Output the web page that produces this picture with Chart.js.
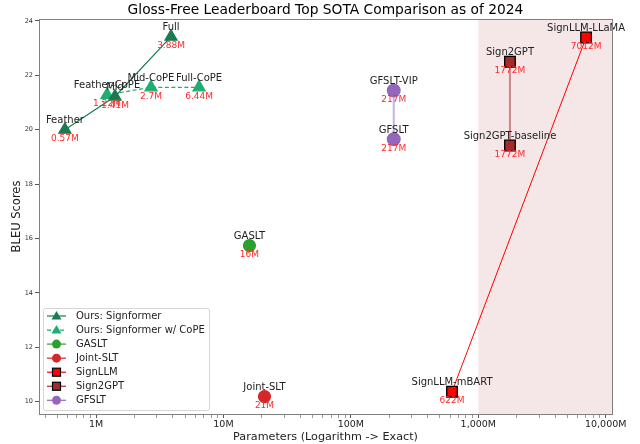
<!DOCTYPE html>
<html>
<head>
<meta charset="utf-8">
<script src="https://cdn.jsdelivr.net/npm/chart.js@4/dist/chart.umd.min.js"></script>
<style>
  body { margin: 0; background: #fff; }
  canvas { display: block; }
</style>
</head>
<body>
<canvas id="sotaChart" width="640" height="444"></canvas>
<script>

// data (params in millions, BLEU)
var signformerNames = ["Feather", "Mid", "Full"];
var signformerParams = [0.57, 1.41, 3.88];
var signformerBleu = [20.0, 21.22, 23.42];

var copeNames = ["Feather-CoPE", "Mid-CoPE", "Full-CoPE"];
var copeParams = [1.22, 2.7, 6.44];
var copeBleu = [21.28, 21.56, 21.56];

var gasltNames = ["GASLT"];
var gasltParams = [16];
var gasltBleu = [15.74];

var jointNames = ["Joint-SLT"];
var jointParams = [21];
var jointBleu = [10.19];

var signllmNames = ["SignLLM-mBART", "SignLLM-LLaMA"];
var signllmParams = [622, 7012];
var signllmBleu = [10.37, 23.39];

var sign2gptNames = ["Sign2GPT", "Sign2GPT-baseline"];
var sign2gptParams = [1772, 1772];
var sign2gptBleu = [22.5, 19.42];

var gfsltNames = ["GFSLT-VIP", "GFSLT"];
var gfsltParams = [217, 217];
var gfsltBleu = [21.44, 19.65];

var xMajorTicks = [1, 10, 100, 1000, 10000];
var xTickLabels = ["1M", "10M", "100M", "1,000M", "10,000M"];
var yTicks = [10, 12, 14, 16, 18, 20, 22, 24];
var shadeFrom = 1000;

function pts(xs, ys){
  return xs.map(function(x, i){ return {x: x, y: ys[i]}; });
}

function paramLabel(v){
  return v + "M";
}

var FONT = "'DejaVu Sans', sans-serif";

var datasets = [
  {label: "Ours: Signformer", names: signformerNames, data: pts(signformerParams, signformerBleu),
   borderColor: "#1a7a50", backgroundColor: "#1a7a50", pointStyle: "triangle", pointRadius: 7,
   pointBorderColor: "#1a7a50", borderWidth: 1.2, legendMarker: "tri"},
  {label: "Ours: Signformer w/ CoPE", names: copeNames, data: pts(copeParams, copeBleu),
   borderColor: "#1fae72", backgroundColor: "#1fae72", pointStyle: "triangle", pointRadius: 7,
   pointBorderColor: "#1fae72", borderWidth: 1.2, borderDash: [4, 2.5], legendMarker: "tri"},
  {label: "GASLT", names: gasltNames, data: pts(gasltParams, gasltBleu),
   borderColor: "#2ca02c", backgroundColor: "#2ca02c", pointStyle: "circle", pointRadius: 6,
   pointBorderColor: "#2ca02c", borderWidth: 1.2, legendMarker: "circle"},
  {label: "Joint-SLT", names: jointNames, data: pts(jointParams, jointBleu),
   borderColor: "#d62728", backgroundColor: "#d62728", pointStyle: "circle", pointRadius: 6,
   pointBorderColor: "#d62728", borderWidth: 1.2, legendMarker: "circle"},
  {label: "SignLLM", names: signllmNames, data: pts(signllmParams, signllmBleu),
   borderColor: "#ff0000", backgroundColor: "#ff0000", pointStyle: "rect", pointRadius: 7.5,
   pointBorderColor: "#000", pointBorderWidth: 1.3, borderWidth: 1, legendMarker: "square", legendBorder: "#000"},
  {label: "Sign2GPT", names: sign2gptNames, data: pts(sign2gptParams, sign2gptBleu),
   borderColor: "rgba(165,42,42,0.5)", backgroundColor: "#a52a2a", pointStyle: "rect", pointRadius: 7.5,
   pointBorderColor: "#000", pointBorderWidth: 1.3, borderWidth: 2, legendMarker: "square",
   legendLine: "#a52a2a", legendBorder: "#000"},
  {label: "GFSLT", names: gfsltNames, data: pts(gfsltParams, gfsltBleu),
   borderColor: "rgba(148,103,189,0.5)", backgroundColor: "#9467bd", pointStyle: "circle", pointRadius: 6,
   pointBorderColor: "#9467bd", borderWidth: 2, legendMarker: "circle", legendLine: "#9467bd"}
];
datasets.forEach(function(d){ d.showLine = true; d.pointHoverRadius = d.pointRadius; });

// pink band for the >1,000M models, plus the full box spine
var shadePlugin = {
  id: "shade",
  beforeDatasetsDraw: function(chart){
    var ctx = chart.ctx, a = chart.chartArea, x = chart.scales.x;
    var left = x.getPixelForValue(shadeFrom);
    ctx.save();
    ctx.fillStyle = "#f5e6e7";
    ctx.fillRect(left, a.top, a.right - left, a.bottom - a.top);
    ctx.restore();
  },
  afterDraw: function(chart){
    var ctx = chart.ctx, a = chart.chartArea;
    ctx.save();
    ctx.strokeStyle = "#808080";
    ctx.lineWidth = 1;
    ctx.strokeRect(a.left + 0.5, a.top + 0.5, a.right - a.left, a.bottom - a.top);
    // title
    ctx.fillStyle = "#000";
    ctx.font = "13.8px " + FONT;
    ctx.textAlign = "center";
    ctx.textBaseline = "middle";
    ctx.fillText("Gloss-Free Leaderboard Top SOTA Comparison as of 2024", (a.left + a.right) / 2, 10.5);
    ctx.restore();
  }
};

// name above each point, size in red below
var pointLabelPlugin = {
  id: "pointLabels",
  afterDatasetsDraw: function(chart){
    var ctx = chart.ctx;
    ctx.save();
    ctx.textAlign = "center";
    chart.data.datasets.forEach(function(ds, i){
      var meta = chart.getDatasetMeta(i);
      meta.data.forEach(function(p, j){
        ctx.font = "10px " + FONT;
        ctx.fillStyle = "#222";
        ctx.textBaseline = "alphabetic";
        ctx.fillText(ds.names[j], p.x, p.y - 6.5);
        ctx.font = "9px " + FONT;
        ctx.fillStyle = "#ff2a2a";
        ctx.textBaseline = "top";
        ctx.fillText(paramLabel(ds.data[j].x), p.x, p.y + 4.5);
      });
    });
    ctx.restore();
  }
};

// matplotlib-like legend in the lower left corner
var legendPlugin = {
  id: "boxLegend",
  afterDraw: function(chart){
    var ctx = chart.ctx;
    var bx = 43, by = 308, bw = 166, bh = 102, row = 14.05;
    ctx.save();
    ctx.fillStyle = "rgba(255,255,255,0.85)";
    ctx.strokeStyle = "#d6d6d6";
    ctx.lineWidth = 1;
    ctx.beginPath();
    ctx.roundRect(bx + 0.5, by + 0.5, bw, bh, 2);
    ctx.fill();
    ctx.stroke();
    chart.data.datasets.forEach(function(ds, i){
      var cy = by + 8 + i * row;
      ctx.strokeStyle = ds.legendLine || ds.borderColor;
      ctx.lineWidth = 1.2;
      ctx.setLineDash(ds.borderDash || []);
      ctx.beginPath();
      ctx.moveTo(47, cy);
      ctx.lineTo(66, cy);
      ctx.stroke();
      ctx.setLineDash([]);
      ctx.fillStyle = ds.backgroundColor;
      var cx = 56.5;
      if (ds.legendMarker === "tri"){
        ctx.beginPath();
        ctx.moveTo(cx, cy - 5);
        ctx.lineTo(cx + 5, cy + 3.5);
        ctx.lineTo(cx - 5, cy + 3.5);
        ctx.closePath();
        ctx.fill();
      } else if (ds.legendMarker === "circle"){
        ctx.beginPath();
        ctx.arc(cx, cy, 4.5, 0, Math.PI * 2);
        ctx.fill();
      } else {
        ctx.fillRect(cx - 4, cy - 4, 8, 8);
        ctx.strokeStyle = ds.legendBorder;
        ctx.lineWidth = 1.2;
        ctx.strokeRect(cx - 4, cy - 4, 8, 8);
      }
      ctx.fillStyle = "#222";
      ctx.font = "10px " + FONT;
      ctx.textAlign = "left";
      ctx.textBaseline = "middle";
      ctx.fillText(ds.label, 76, cy + 0.5);
    });
    ctx.restore();
  }
};

function buildLogTicks(){
  var out = [];
  [0.1, 1, 10, 100, 1000].forEach(function(base){
    for (var m = 1; m <= 9; m++){
      var v = +(base * m).toPrecision(3);
      if (v >= 0.36 && v <= 11000) out.push({value: v});
    }
  });
  out.push({value: 10000});
  return out;
}

function drawChart(){
  var ctx = document.getElementById("sotaChart").getContext("2d");
  new Chart(ctx, {
    type: "scatter",
    data: {datasets: datasets},
    plugins: [shadePlugin, pointLabelPlugin, legendPlugin],
    options: {
      responsive: false,
      animation: false,
      devicePixelRatio: 1,
      layout: {padding: {top: 19, right: 28, left: 0, bottom: 0}},
      plugins: {legend: {display: false}, tooltip: {enabled: false}, title: {display: false}},
      scales: {
        x: {
          type: "logarithmic",
          min: 0.357,
          max: 11200,
          afterFit: function(s){ s.height = 30; },
          afterBuildTicks: function(s){ s.ticks = buildLogTicks(); },
          grid: {drawOnChartArea: false, tickLength: 4, color: "#555",
                 lineWidth: function(c){ return xMajorTicks.indexOf(c.tick && c.tick.value) >= 0 ? 1 : 0.6; }},
          border: {color: "#808080"},
          ticks: {
            autoSkip: false, maxRotation: 0, padding: 1, color: "#222",
            font: {family: FONT, size: 9.5},
            callback: function(v){
              var k = xMajorTicks.indexOf(v);
              return k >= 0 ? xTickLabels[k] : "";
            }
          },
          title: {display: true, text: "Parameters (Logarithm -> Exact)", color: "#222",
                  font: {family: FONT, size: 11.2}, padding: {top: 0, bottom: 0}}
        },
        y: {
          min: 9.55,
          max: 24.07,
          afterFit: function(s){ s.width = 39; },
          afterBuildTicks: function(s){ s.ticks = yTicks.map(function(v){ return {value: v}; }); },
          grid: {drawOnChartArea: false, tickLength: 4, color: "#555"},
          border: {color: "#808080"},
          ticks: {padding: 2, color: "#333", font: {family: FONT, size: 6.5}},
          title: {display: true, text: "BLEU Scores", color: "#222",
                  font: {family: FONT, size: 11.5}, padding: {top: 10, bottom: 0}}
        }
      }
    }
  });
}

drawChart();
</script>
</body>
</html>
